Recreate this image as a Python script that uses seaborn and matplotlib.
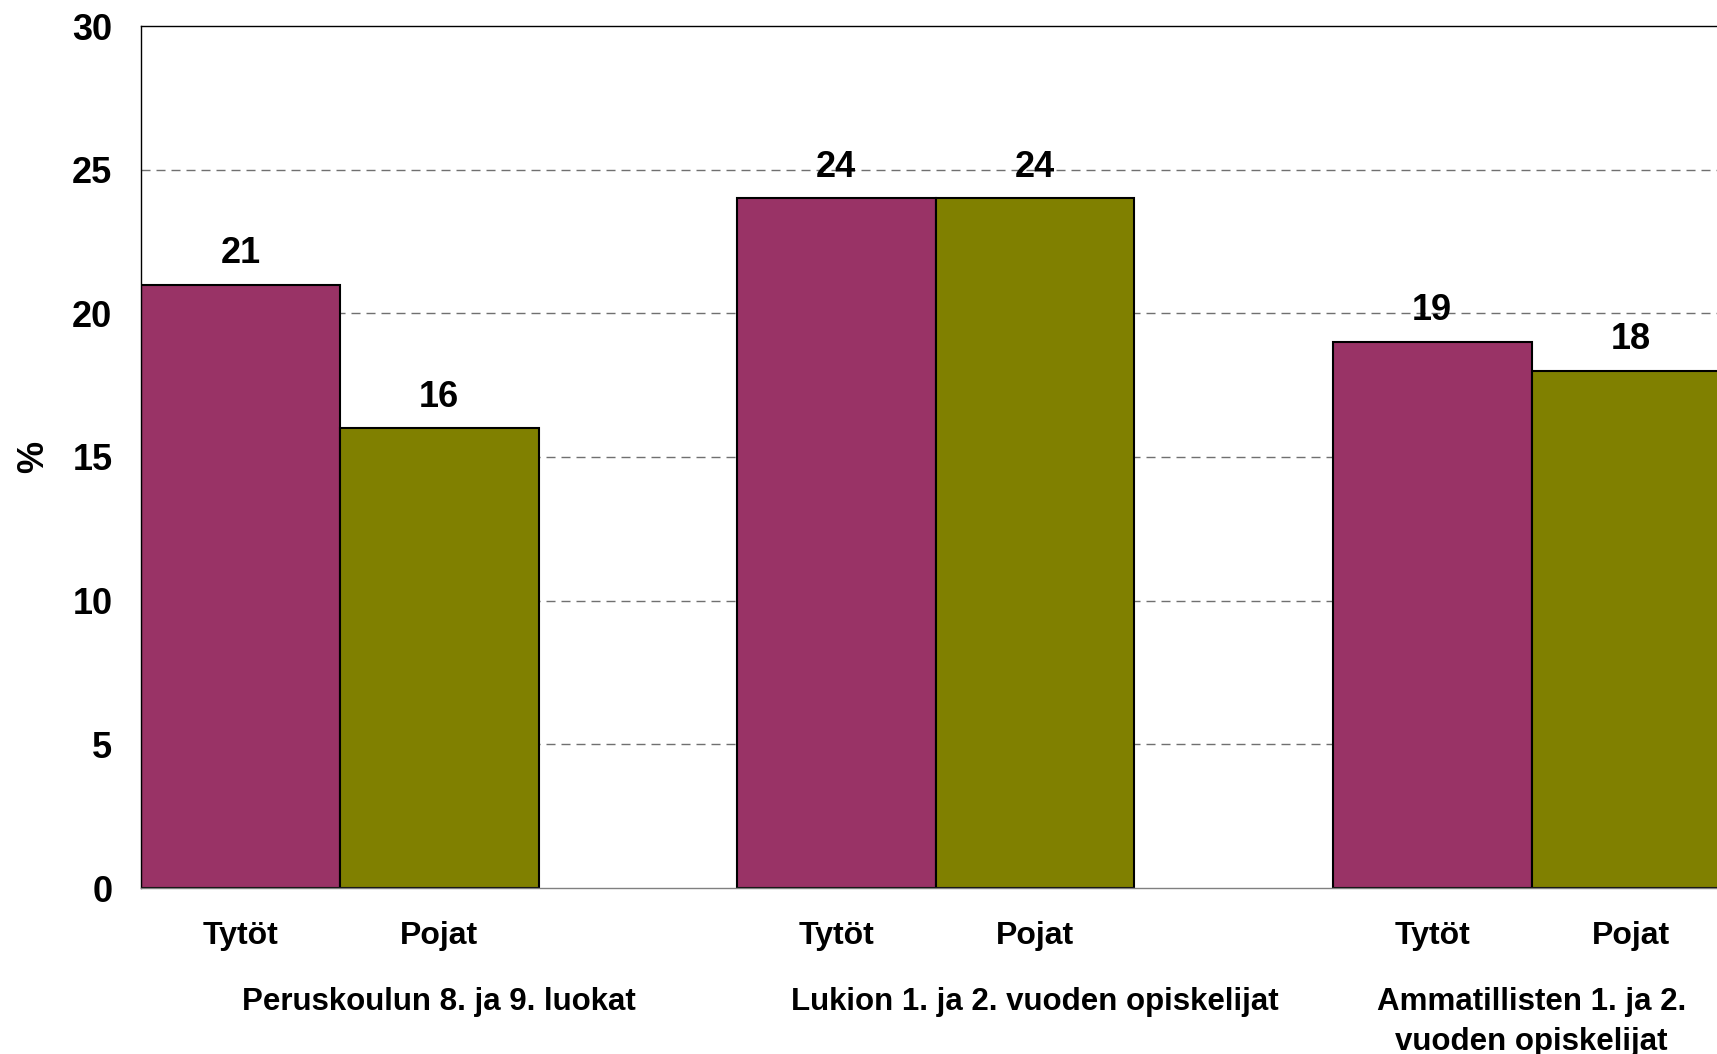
import matplotlib
matplotlib.use('Agg')
import matplotlib.pyplot as plt
import matplotlib.transforms as mtransforms
import pandas as pd
import seaborn as sns

# data
groups = ['Peruskoulun 8. ja 9. luokat',
          'Lukion 1. ja 2. vuoden opiskelijat',
          'Ammatillisten 1. ja 2.\nvuoden opiskelijat']
sexes = ['Tytöt', 'Pojat']
tytot = [21, 24, 19]
pojat = [16, 24, 18]
colors = ['#993366', '#808000']

df = pd.DataFrame({
    'ryhma': groups * 2,
    'sukupuoli': [sexes[0]] * 3 + [sexes[1]] * 3,
    'osuus': tytot + pojat,
})

sns.set_theme(style='white')
plt.rcParams['font.family'] = ['Liberation Sans', 'DejaVu Sans']
plt.rcParams['font.weight'] = 'bold'
plt.rcParams['text.color'] = 'black'
plt.rcParams['axes.labelcolor'] = 'black'
plt.rcParams['xtick.labelcolor'] = 'black'
plt.rcParams['ytick.labelcolor'] = 'black'

fig = plt.figure(figsize=(17.17, 10.54), dpi=100)
ax = fig.add_axes([141 / 1717, (1054 - 888) / 1054, 1 - 141 / 1717, (888 - 26) / 1054])

sns.barplot(data=df, x='ryhma', y='osuus', hue='sukupuoli', order=groups,
            hue_order=sexes, palette=colors, width=0.667, gap=0,
            edgecolor='black', linewidth=1.5, saturation=1, legend=False, ax=ax)

ax.set_xlim(-0.3335, 2.311)
ax.set_ylim(0, 30)
ax.set_yticks(range(0, 31, 5))

# dashed gridlines
for v in range(5, 30, 5):
    ax.axhline(v, color='#707070', lw=1.0, ls=(0, (6.5, 4.3)), zorder=0)
ax.set_axisbelow(True)

ax.spines['right'].set_visible(False)
ax.spines['top'].set_color('black')
ax.spines['top'].set_linewidth(1.0)
ax.spines['left'].set_color('black')
ax.spines['left'].set_linewidth(1.0)
ax.spines['bottom'].set_color('#808080')
ax.spines['bottom'].set_linewidth(1.0)

# value labels
for cont in ax.containers:
    for bar in cont:
        h = bar.get_height()
        ax.annotate(f'{h:.0f}', (bar.get_x() + bar.get_width() / 2, h),
                    xytext=(0, 22.5), textcoords='offset points',
                    ha='center', va='center', fontsize=26, fontweight='bold',
                    annotation_clip=False)

# x ticks under each bar
centers, labels = [], []
for cont, sx in zip(ax.containers, sexes):
    for bar in cont:
        centers.append(bar.get_x() + bar.get_width() / 2)
        labels.append(sx)
ax.set_xticks(centers)
ax.set_xticklabels(labels, fontsize=23, fontweight='bold')
ax.tick_params(axis='x', length=0, pad=24)
ax.tick_params(axis='y', length=8.6, width=1.0, color='#707070', pad=12,
               labelsize=26)
for t in ax.get_yticklabels():
    t.set_fontweight('bold')

# group labels
offsets = [0.1667, 0.1667, 0.0]
trans = mtransforms.blended_transform_factory(ax.transData, fig.transFigure)
for i, (g, off) in enumerate(zip(groups, offsets)):
    ax.text(i + off, 1 - 987 / 1054, g, transform=trans, ha='center', va='top',
            fontsize=22.5, fontweight='bold', linespacing=1.45, clip_on=False)

ax.set_xlabel('')
ax.set_ylabel('%', fontsize=26, fontweight='bold')
ax.yaxis.set_label_coords(-0.057, 0.5)

fig.savefig('out.png', dpi=100)
